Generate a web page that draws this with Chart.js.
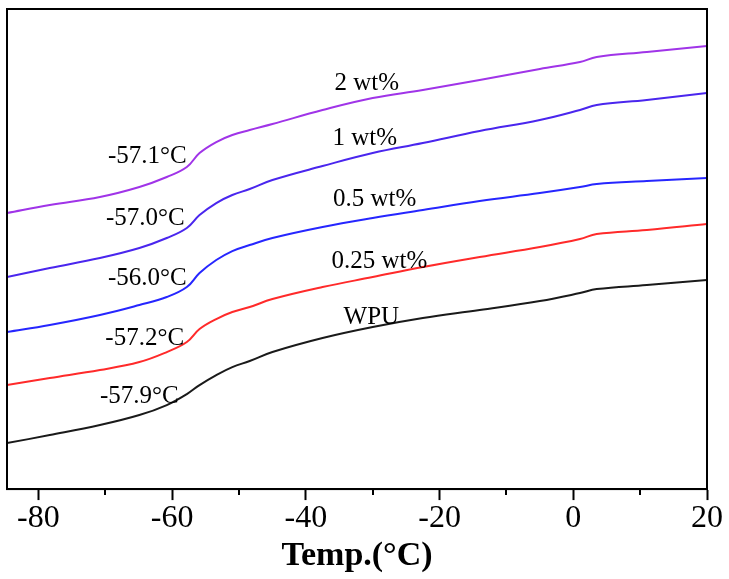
<!DOCTYPE html>
<html>
<head>
    <title>DSC curves</title>
    <script src="https://cdn.jsdelivr.net/npm/chart.js"></script>
    <style>
        body {
            margin: 0;
            background-color: #fff;
        }
    </style>
</head>
<body>
    <canvas id="dscChart" width="729" height="579"></canvas>

    <script>
        // Temperatures (°C)
        var temps = [-84.7, -78.3, -70.8, -64.9, -60.8, -57.8, -55.9, -53.4, -51.0, -48.4,
                     -45.0, -37.5, -30.0, -22.5, -14.0, -5.0, 1.0, 3.5, 11.0, 20.0];

        // Heat flow (arbitrary units, curves offset for clarity)
        var wt2   = [276, 284, 292, 302, 312, 322, 336, 347, 354, 359, 365, 379, 391, 399, 409, 420, 427, 432, 437, 443];
        var wt1   = [212, 221, 231, 241, 251, 261, 274, 286, 294, 300, 309, 323, 336, 346, 358, 369, 379, 384, 389, 396];
        var wt05  = [157, 164, 174, 184, 192, 202, 216, 229, 238, 244, 251, 262, 271, 279, 288, 296, 302, 305, 308, 311];
        var wt025 = [104, 111, 119, 127, 137, 147, 160, 170, 177, 182, 190, 202, 212, 222, 232, 242, 250, 255, 259, 265];
        var wpu   = [46, 54, 64, 74, 84, 95, 104, 114, 122, 128, 137, 151, 162, 171, 179, 188, 196, 200, 204, 209];

        // Text labels and their anchors in data units
        var labelTexts = ['2 wt%', '1 wt%', '0.5 wt%', '0.25 wt%', 'WPU',
                          '-57.1°C', '-57.0°C', '-56.0°C', '-57.2°C', '-57.9°C'];
        var labelT = [-30.9, -31.2, -29.7, -29.0, -30.2, -63.7, -64.0, -63.7, -64.1, -64.9];
        var labelV = [406, 351, 290, 228, 172, 333, 271, 211, 151, 93];

        var majorTicks = [-80, -60, -40, -20, 0, 20];
        var minorTicks = [-70, -50, -30, -10, 10];

        function toPoints(values) {
            return temps.map(function(t, i) { return { x: t, y: values[i] }; });
        }

        function line(values, color) {
            return {
                data: toPoints(values),
                borderColor: color,
                borderWidth: 2,
                pointRadius: 0,
                fill: false,
                tension: 0.4
            };
        }

        // frame, minor ticks and text labels
        var extras = {
            id: 'extras',
            afterDraw: function(chart) {
                var ctx = chart.ctx;
                var area = chart.chartArea;
                var xs = chart.scales.x;
                var ys = chart.scales.y;
                ctx.save();
                ctx.strokeStyle = '#000';
                ctx.lineWidth = 2;
                ctx.strokeRect(area.left, area.top, area.right - area.left, area.bottom - area.top);

                minorTicks.forEach(function(v) {
                    var px = Math.round(xs.getPixelForValue(v));
                    ctx.beginPath();
                    ctx.moveTo(px, area.bottom);
                    ctx.lineTo(px, area.bottom + 6);
                    ctx.stroke();
                });

                ctx.fillStyle = '#000';
                ctx.font = '25px "Liberation Serif", "Times New Roman", serif';
                ctx.textAlign = 'center';
                ctx.textBaseline = 'middle';
                labelTexts.forEach(function(txt, i) {
                    ctx.fillText(txt, xs.getPixelForValue(labelT[i]), ys.getPixelForValue(labelV[i]));
                });
                ctx.restore();
            }
        };

        var ctx = document.getElementById('dscChart').getContext('2d');
        var dscChart = new Chart(ctx, {
            type: 'line',
            data: {
                datasets: [
                    line(wt2, '#a034e8'),
                    line(wt1, '#4a26ee'),
                    line(wt05, '#2626ff'),
                    line(wt025, '#ff2a2a'),
                    line(wpu, '#1a1a1a')
                ]
            },
            options: {
                responsive: false,
                animation: false,
                devicePixelRatio: 1,
                layout: {
                    padding: { left: 7, top: 9, right: 22, bottom: 6 }
                },
                plugins: {
                    legend: { display: false },
                    tooltip: { enabled: false }
                },
                scales: {
                    x: {
                        type: 'linear',
                        min: -84.7,
                        max: 20,
                        afterBuildTicks: function(scale) {
                            scale.ticks = majorTicks.map(function(v) { return { value: v }; });
                        },
                        afterFit: function(scale) {
                            // the outer "20" label may hang past the frame, as in the original
                            scale.paddingLeft = 0;
                            scale.paddingRight = 0;
                        },
                        ticks: {
                            color: '#000',
                            padding: 10,
                            maxRotation: 0,
                            font: { family: '"Liberation Serif", serif', size: 32, lineHeight: 0.56 }
                        },
                        grid: {
                            drawOnChartArea: false,
                            tickLength: 11,
                            tickColor: '#000',
                            tickWidth: 2
                        },
                        border: { color: '#000', width: 2 },
                        title: {
                            display: true,
                            text: 'Temp.(°C)',
                            color: '#000',
                            padding: { top: 1, bottom: 0 },
                            font: { family: '"Liberation Serif", serif', size: 34, weight: 'bold', lineHeight: 1 }
                        }
                    },
                    y: {
                        display: false,
                        min: 0,
                        max: 480
                    }
                }
            },
            plugins: [extras]
        });
    </script>
</body>
</html>
